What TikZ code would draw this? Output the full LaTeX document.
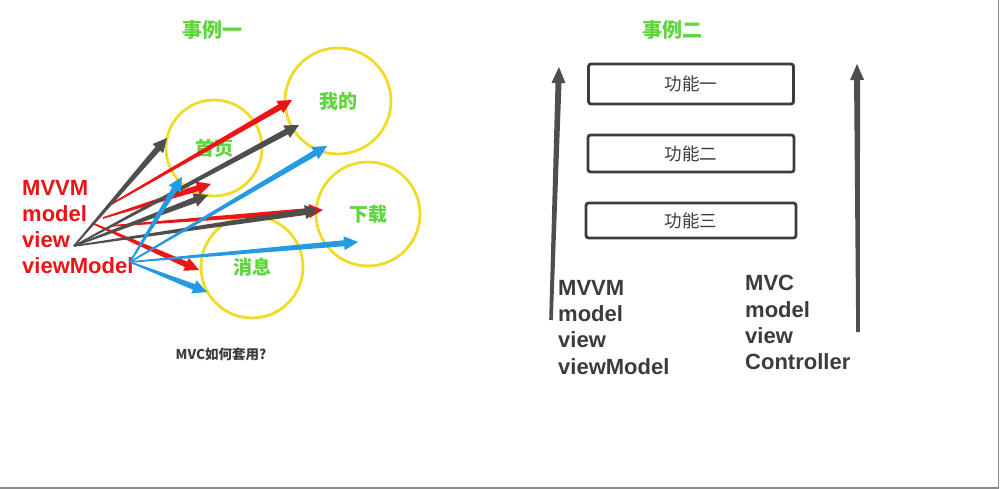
\documentclass[tikz,border=0pt]{standalone}
\usepackage{fontspec}
\setmainfont{Liberation Sans}
\newfontfamily\cjk{Noto Sans CJK SC}
\usetikzlibrary{calc}
\definecolor{tgreen}{RGB}{92,214,58}
\definecolor{ared}{RGB}{236,20,20}
\definecolor{ablue}{RGB}{36,154,226}
\definecolor{agray}{RGB}{78,78,78}
\definecolor{cyel}{RGB}{240,220,40}
\definecolor{dgray}{RGB}{60,60,60}
% tapered arrow: #1 from, #2 to, #3 colour, #4 shaft half-width at head, #5 head half-width, #6 head length, #7 tail half-width
\newcommand\tarrow[7]{%
  \fill[#3] ($(#1)!#7!90:(#2)$) --
    ($($(#2)!#6!(#1)$)!#4!-90:(#1)$) --
    ($($(#2)!#6!(#1)$)!#5!-90:(#1)$) --
    (#2) --
    ($($(#2)!#6!(#1)$)!#5!90:(#1)$) --
    ($($(#2)!#6!(#1)$)!#4!90:(#1)$) --
    ($(#1)!#7!-90:(#2)$) -- cycle;}
\begin{document}
\begin{tikzpicture}[x=1pt,y=-1pt,
  title/.style={font=\cjk\bfseries\fontsize{20}{22}\selectfont, text=tgreen, inner sep=0},
  circ/.style={circle, draw=cyel, line width=2.8pt, inner sep=0, font=\cjk\bfseries\fontsize{19}{21}\selectfont, text=tgreen},
  redtxt/.style={anchor=base west, inner sep=0, font=\bfseries\fontsize{22}{24}\selectfont, text=ared},
  graytxt/.style={anchor=base west, inner sep=0, font=\bfseries\fontsize{22}{24}\selectfont, text=dgray},
  fbox/.style={draw=dgray, rounded corners=2.5pt, line width=2.8pt, font=\cjk\fontsize{17.5}{19}\selectfont, text=dgray}
]
\useasboundingbox (0,0) rectangle (1000,489);
\fill[white] (0,0) rectangle (1000,489);
\draw[gray!90, line width=1.5pt] (998.5,0) -- (998.5,487.8) -- (0,487.8);

% titles
\node[title] (t1) at (212,30) {事例一};
\node[title] (t2) at (672,30) {事例二};
\node[inner sep=0, font=\cjk\bfseries\fontsize{13.5}{15}\selectfont, text=dgray] (q) at (221,354) {MVC如何套用?};

% circles
\node[circ, minimum size=96pt] (c1) at (214,148) {首页};
\node[circ, minimum size=106pt] (c2) at (338,101) {我的};
\node[circ, minimum size=104pt] (c3) at (368,214) {下载};
\node[circ, minimum size=102pt] (c4) at (252,267) {消息};

% left texts
\node[redtxt] (l1) at (22,195) {MVVM};
\node[redtxt] (l2) at (22,221) {model};
\node[redtxt] (l3) at (22,247) {view};
\node[redtxt] (l4) at (22,273) {viewModel};

% coordinates
\coordinate (g0) at (74,246);
\coordinate (ga) at (167,138);
\coordinate (gb) at (299,125);
\coordinate (gc) at (208,195);
\coordinate (gd) at (319,210);
\coordinate (ra0) at (108,206);
\coordinate (ra) at (292,100);
\coordinate (rb0) at (103,218);
\coordinate (rb) at (211,184);
\coordinate (rc0) at (110,226);
\coordinate (rc) at (323,210);
\coordinate (rd0) at (92,223);
\coordinate (rd) at (199,270);
\coordinate (b0) at (130,262);
\coordinate (ba) at (182,177);
\coordinate (bb) at (327,146);
\coordinate (bc) at (358,242);
\coordinate (bd) at (207,292);

% red arrows
\tarrow{ra0}{ra}{ared}{3pt}{7pt}{14pt}{0.8pt}
\tarrow{rb0}{rb}{ared}{3pt}{7pt}{14pt}{0.8pt}
\tarrow{rc0}{rc}{ared}{3pt}{7pt}{14pt}{0.8pt}
\tarrow{rd0}{rd}{ared}{3pt}{7pt}{14pt}{0.8pt}
% gray arrows
\tarrow{g0}{ga}{agray}{3pt}{7pt}{14pt}{0.8pt}
\tarrow{g0}{gb}{agray}{3pt}{7pt}{14pt}{0.8pt}
\tarrow{g0}{gc}{agray}{3pt}{7pt}{14pt}{0.8pt}
\tarrow{g0}{gd}{agray}{3pt}{7pt}{14pt}{0.8pt}
% blue arrows
\tarrow{b0}{ba}{ablue}{3pt}{7pt}{14pt}{0.8pt}
\tarrow{b0}{bb}{ablue}{3pt}{7pt}{14pt}{0.8pt}
\tarrow{b0}{bc}{ablue}{3pt}{7pt}{14pt}{0.8pt}
\tarrow{b0}{bd}{ablue}{3pt}{7pt}{14pt}{0.8pt}

% right part boxes
\node[fbox, minimum width=205pt, minimum height=40pt] (f1) at (691,84) {功能一};
\node[fbox, minimum width=206pt, minimum height=37pt] (f2) at (691,153.5) {功能二};
\node[fbox, minimum width=210pt, minimum height=35pt] (f3) at (691,220.5) {功能三};

% vertical arrows
\coordinate (v1s) at (551,320);
\coordinate (v1e) at (559,67);
\coordinate (v2s) at (858,332);
\coordinate (v2e) at (857,64);
\tarrow{v1s}{v1e}{agray}{3pt}{7pt}{16pt}{1.8pt}
\tarrow{v2s}{v2e}{agray}{3pt}{7pt}{16pt}{1.8pt}

% right texts
\node[graytxt] (m1) at (558,295) {MVVM};
\node[graytxt] (m2) at (558,321) {model};
\node[graytxt] (m3) at (558,347) {view};
\node[graytxt] (m4) at (558,374) {viewModel};
\node[graytxt] (n1) at (745,290) {MVC};
\node[graytxt] (n2) at (745,317) {model};
\node[graytxt] (n3) at (745,343) {view};
\node[graytxt] (n4) at (745,369) {Controller};
\end{tikzpicture}
\end{document}
